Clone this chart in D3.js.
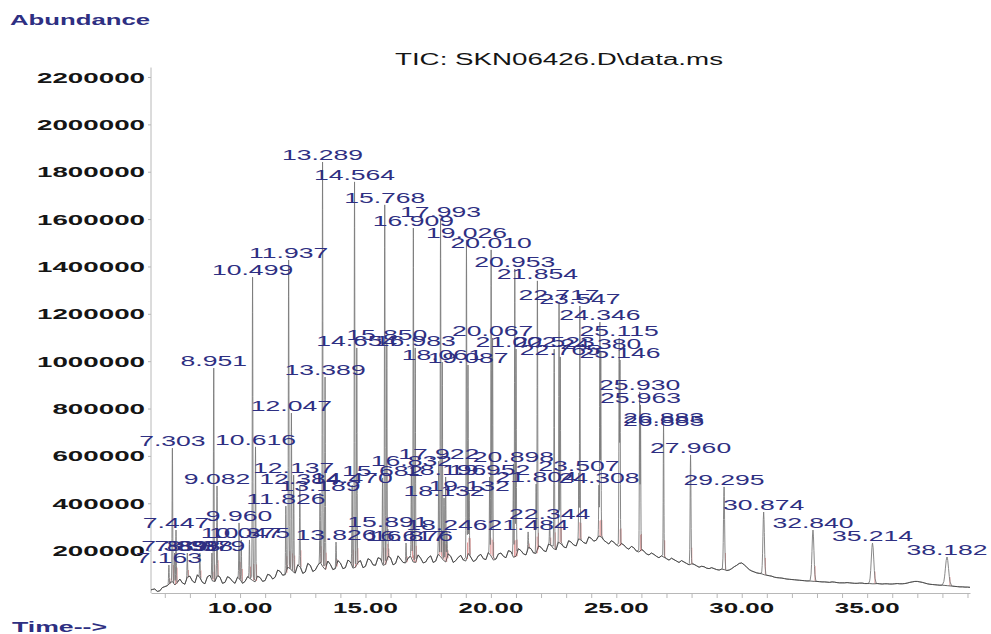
<!DOCTYPE html>
<html>
<head>
<meta charset="utf-8">
<script src="https://cdn.jsdelivr.net/npm/d3@7"></script>
<style>
  body { margin: 0; background: #fff; }
  text { font-family: "Liberation Sans", Arial, sans-serif; }
</style>
</head>
<body>
<script>
let width = 991;
let height = 634;

// labelled peaks: retention time (min) and apex abundance
let peakTimes = [
    7.163, 7.303, 7.389, 7.447, 7.898, 8.398, 8.879, 8.951, 9.082, 9.960,
    10.047, 10.375, 10.499, 10.616, 11.826, 11.937, 12.047, 12.137, 12.384, 13.189,
    13.289, 13.389, 13.826, 14.470, 14.564, 14.654, 15.682, 15.768, 15.850, 15.891,
    16.617, 16.832, 16.876, 16.909, 16.983, 17.922, 17.993, 18.061, 18.132, 18.196,
    18.246, 19.026, 19.087, 19.132, 19.952, 20.010, 20.067, 20.898, 20.953, 21.002,
    21.484, 21.804, 21.854, 22.344, 22.523, 22.717, 22.765, 23.507, 23.547, 24.308,
    24.346, 24.380, 25.115, 25.146, 25.930, 25.963, 26.883, 26.885, 27.960, 29.295,
    30.874, 32.840, 35.214, 38.182
];
let peakApex = [
    139000, 633000, 190000, 287000, 190000, 190000, 190000, 971000, 473000, 317000,
    245000, 245000, 1355000, 638000, 388000, 1427000, 781000, 519000, 473000, 443000,
    1841000, 933000, 236000, 477000, 1757000, 1056000, 507000, 1660000, 1081000, 291000,
    232000, 549000, 232000, 1562000, 1056000, 578000, 1600000, 996000, 422000, 511000,
    279000, 1512000, 984000, 443000, 511000, 1470000, 1098000, 566000, 1389000, 1051000,
    279000, 481000, 1339000, 325000, 1051000, 1250000, 1018000, 528000, 1233000, 477000,
    1165000, 1043000, 1098000, 1005000, 870000, 815000, 730000, 718000, 604000, 469000,
    363000, 287000, 232000, 173000
];

// baseline of the trace, read every 0.2 min: [time, abundance x1000]
let baseline = [
    [6.4,32],[6.6,38],[6.8,30],[7.0,48],[7.2,62],[7.4,55],[7.6,80],[7.8,58],[8.0,92],[8.2,64],
    [8.4,85],[8.6,60],[8.8,96],[9.0,70],[9.2,88],[9.4,66],[9.6,84],[9.8,62],[10.0,78],[10.2,70],
    [10.4,82],[10.6,68],[10.8,86],[11.0,74],[11.2,96],[11.4,88],[11.6,112],[11.8,98],[12.0,124],[12.2,105],
    [12.4,130],[12.6,110],[12.8,138],[13.0,118],[13.2,150],[13.4,120],[13.6,142],[13.8,124],[14.0,148],[14.2,128],
    [14.4,152],[14.6,130],[14.8,158],[15.0,134],[15.2,160],[15.4,138],[15.6,166],[15.8,142],[16.0,170],[16.2,146],
    [16.4,164],[16.6,148],[16.8,176],[17.0,150],[17.2,168],[17.4,152],[17.6,178],[17.8,156],[18.0,174],[18.2,152],
    [18.4,176],[18.6,158],[18.8,180],[19.0,156],[19.2,172],[19.4,160],[19.6,184],[19.8,162],[20.0,178],[20.2,164],
    [20.4,190],[20.6,170],[20.8,196],[21.0,176],[21.2,200],[21.4,182],[21.6,208],[21.8,188],[22.0,214],[22.2,196],
    [22.4,222],[22.6,204],[22.8,228],[23.0,212],[23.2,236],[23.4,220],[23.6,244],[23.8,230],[24.0,252],[24.2,244],
    [24.4,258],[24.6,236],[24.8,242],[25.0,224],[25.2,230],[25.4,212],[25.6,218],[25.8,198],[26.0,204],[26.2,186],
    [26.4,190],[26.6,176],[26.8,178],[27.0,166],[27.2,168],[27.4,156],[27.6,158],[27.8,146],[28.0,144],[28.2,136],
    [28.4,134],[28.6,126],[28.8,128],[29.0,120],[29.2,122],[29.4,116],[29.6,124],[29.8,138],[30.0,148],[30.2,130],
    [30.4,114],[30.6,106],[30.8,102],[31.0,96],[31.2,92],[31.4,86],[31.6,84],[31.8,80],[32.0,78],[32.2,76],
    [32.4,74],[32.6,72],[32.8,71],[33.0,70],[33.2,68],[33.4,67],[33.6,68],[33.8,65],[34.0,64],[34.2,65],
    [34.4,63],[34.6,62],[34.8,63],[35.0,61],[35.2,60],[35.4,61],[35.6,59],[35.8,60],[36.0,59],[36.2,61],
    [36.4,60],[36.6,63],[36.8,68],[37.0,70],[37.2,66],[37.4,60],[37.6,57],[37.8,55],[38.0,54],[38.2,52],
    [38.4,50],[38.6,48],[38.8,47],[39.0,46],[39.2,45]
];
// in-between readings (noise) at the odd tenths
let baselineMid = [
    [6.5,36],[6.7,28],[6.9,44],[7.1,52],[7.3,70],[7.5,66],[7.7,64],[7.9,88],[8.1,72],[8.3,98],
    [8.5,66],[8.7,90],[8.9,72],[9.1,94],[9.3,62],[9.5,90],[9.7,70],[9.9,88],[10.1,62],[10.3,90],
    [10.5,74],[10.7,92],[10.9,70],[11.1,100],[11.3,80],[11.5,118],[11.7,96],[11.9,130],[12.1,112],[12.3,140],
    [12.5,104],[12.7,146],[12.9,112],[13.1,138],[13.3,132],[13.5,156],[13.7,120],[13.9,158],[14.1,124],[14.3,160],
    [14.5,126],[14.7,150],[14.9,128],[15.1,166],[15.3,140],[15.5,170],[15.7,138],[15.9,176],[16.1,140],[16.3,178],
    [16.5,150],[16.7,168],[16.9,152],[17.1,182],[17.3,148],[17.5,170],[17.7,150],[17.9,184],[18.1,160],[18.3,186],
    [18.5,150],[18.7,172],[18.9,160],[19.1,188],[19.3,154],[19.5,178],[19.7,166],[19.9,192],[20.1,160],[20.3,186],
    [20.5,176],[20.7,200],[20.9,172],[21.1,208],[21.3,186],[21.5,214],[21.7,190],[21.9,220],[22.1,200],[22.3,228],
    [22.5,208],[22.7,236],[22.9,216],[23.1,242],[23.3,224],[23.5,250],[23.7,234],[23.9,258],[24.1,240],[24.3,262],
    [24.5,244],[24.7,228],[24.9,236],[25.1,218],[25.3,224],[25.5,206],[25.7,212],[25.9,194],[26.1,198],[26.3,182],
    [26.5,184],[26.7,170],[26.9,172],[27.1,160],[27.3,162],[27.5,150],[27.7,152],[27.9,140],[28.1,142],[28.3,130],
    [28.5,132],[28.7,124],[28.9,124],[29.1,118],[29.3,120],[29.5,118],[29.7,132],[29.9,146],[30.1,140],[30.3,120],
    [30.5,110],[30.7,104],[30.9,98],[31.1,94],[31.3,88],[31.5,85],[31.7,82],[31.9,79],[32.1,77],[32.3,75],
    [32.5,73],[32.7,72],[32.9,70],[33.1,69],[33.3,68],[33.5,66],[33.7,67],[33.9,64],[34.1,64],[34.3,64],
    [34.5,62],[34.7,63],[34.9,61],[35.1,61],[35.3,60],[35.5,60],[35.7,60],[35.9,59],[36.1,60],[36.3,60],
    [36.5,61],[36.7,66],[36.9,70],[37.1,68],[37.3,63],[37.5,58],[37.7,56],[37.9,54],[38.1,53],[38.3,51],
    [38.5,49],[38.7,47],[38.9,46],[39.1,45]
];

let yTicks = [200000, 400000, 600000, 800000, 1000000, 1200000, 1400000, 1600000, 1800000, 2000000, 2200000];
let xTicks = [10, 15, 20, 25, 30, 35];

let navy = '#2e2f82';

let svg = d3.select('body').append('svg')
    .attr('width', width)
    .attr('height', height);

let x = d3.scaleLinear().domain([6.45, 39.1]).range([151, 970]);
let y = d3.scaleLinear().domain([0, 2200000]).range([598, 77]);
let axisY = 593;

svg.append('defs').append('clipPath').attr('id', 'plot')
    .append('rect')
    .attr('x', x.range()[0]).attr('y', 0)
    .attr('width', x.range()[1] - x.range()[0]).attr('height', axisY);

// axes
svg.append('line')
    .attr('x1', x.range()[0]).attr('x2', x.range()[0])
    .attr('y1', y(2240000)).attr('y2', axisY)
    .attr('stroke', '#b8b8b8');

svg.append('g')
    .attr('transform', `translate(${x.range()[0]},0)`)
    .call(d3.axisLeft(y).tickValues(yTicks).tickSize(3).tickFormat(''))
    .call(g => g.select('.domain').remove())
    .call(g => g.selectAll('line').attr('stroke', '#b8b8b8'));

svg.append('g')
    .attr('transform', `translate(0,${axisY})`)
    .call(d3.axisBottom(x).tickValues(d3.range(7, 40)).tickSize(5).tickSizeOuter(0).tickFormat(''))
    .call(g => g.select('.domain').attr('stroke', '#b8b8b8'))
    .call(g => g.selectAll('line').attr('stroke', '#b8b8b8'));

svg.selectAll('.ylab')
    .data(yTicks)
    .join('text')
    .attr('class', 'ylab')
    .attr('transform', d => `translate(145,${y(d) + 5.5}) scale(1.85,1)`)
    .attr('text-anchor', 'end')
    .attr('font-size', 15)
    .attr('font-weight', 'bold')
    .attr('fill', '#151515')
    .text(d => d);

svg.selectAll('.xlab')
    .data(xTicks)
    .join('text')
    .attr('class', 'xlab')
    .attr('transform', d => `translate(${x(d)},613) scale(1.85,1)`)
    .attr('text-anchor', 'middle')
    .attr('font-size', 14)
    .attr('font-weight', 'bold')
    .attr('fill', '#151515')
    .text(d => d3.format('.2f')(d));

// trace = baseline + narrow peaks
let basePts = baseline.concat(baselineMid).sort((a, b) => a[0] - b[0]);
let baseAt = d3.scaleLinear()
    .domain(basePts.map(d => d[0]))
    .range(basePts.map(d => d[1] * 1000));

let peaks = peakTimes.map((t, i) => {
    let base = baseAt(t);
    let sigma = t < 27 ? 0.012 : 0.012 + (t - 27) * 0.0045;
    return {t: t, apex: peakApex[i], base: base, h: Math.max(peakApex[i] - base, 10000), sigma: sigma};
});

let times = basePts.map(d => d[0]);
peaks.forEach(p => {
    [-3, -2, -1.5, -1, -0.5, 0, 0.5, 1, 1.5, 2, 3].forEach(k => times.push(p.t + k * p.sigma));
});
times.sort((a, b) => a - b);

let trace = times.map(t => {
    let bump = d3.max(peaks, p => p.h * Math.exp(-0.5 * Math.pow((t - p.t) / p.sigma, 2)));
    return {t: t, v: baseAt(t) + bump};
});

let line = d3.line()
    .x(d => x(d.t))
    .y(d => y(d.v));

let plot = svg.append('g').attr('clip-path', 'url(#plot)');

// integration marks
plot.selectAll('.integ')
    .data(peaks)
    .join('line')
    .attr('class', 'integ')
    .attr('x1', d => x(d.t + 1.5 * d.sigma) + 0.6)
    .attr('x2', d => x(d.t + 1.5 * d.sigma) + 0.6)
    .attr('y1', d => y(d.base))
    .attr('y2', d => y(d.base + Math.min(d.h * 0.3, 70000)))
    .attr('stroke', '#e39a9a')
    .attr('stroke-width', 1);

plot.append('path')
    .datum(trace)
    .attr('d', line)
    .attr('fill', 'none')
    .attr('stroke', '#7a7a7a')
    .attr('stroke-width', 0.9);

plot.append('path')
    .datum(basePts)
    .attr('d', d3.line().x(d => x(d[0])).y(d => y(d[1] * 1000)))
    .attr('fill', 'none')
    .attr('stroke', '#3c3c3c')
    .attr('stroke-width', 0.8);

// peak labels
svg.selectAll('.plab')
    .data(peaks)
    .join('text')
    .attr('class', 'plab')
    .attr('transform', d => `translate(${x(d.t)},${y(d.apex) - 2}) scale(1.77,1)`)
    .attr('text-anchor', 'middle')
    .attr('font-size', 15)
    .attr('fill', navy)
    .text(d => d3.format('.3f')(d.t));

// titles
svg.append('text')
    .attr('x', 395).attr('y', 65)
    .attr('textLength', 328).attr('lengthAdjust', 'spacingAndGlyphs')
    .attr('font-size', 16)
    .attr('fill', '#151515')
    .text('TIC: SKN06426.D\\data.ms');

svg.append('text')
    .attr('x', 10).attr('y', 25)
    .attr('textLength', 140).attr('lengthAdjust', 'spacingAndGlyphs')
    .attr('font-size', 14)
    .attr('font-weight', 'bold')
    .attr('fill', navy)
    .text('Abundance');

svg.append('text')
    .attr('x', 12).attr('y', 632)
    .attr('textLength', 95).attr('lengthAdjust', 'spacingAndGlyphs')
    .attr('font-size', 14)
    .attr('font-weight', 'bold')
    .attr('fill', navy)
    .text('Time-->');
</script>
</body>
</html>
